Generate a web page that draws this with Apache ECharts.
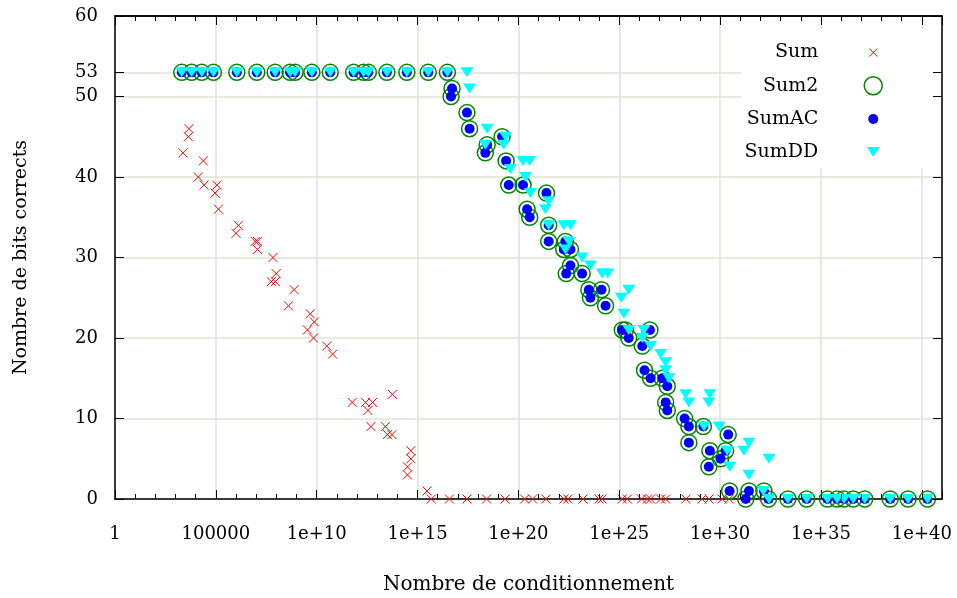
<!DOCTYPE html>
<html>
<head>
<meta charset="utf-8">
<title>Nombre de bits corrects</title>
<script src="https://cdn.jsdelivr.net/npm/echarts@6/dist/echarts.min.js"></script>
<style>
html,body{margin:0;padding:0;background:#fff;}
#chart{width:957px;height:598px;}
</style>
</head>
<body>
<div id="chart"></div>
<script>
// exposants : log10 du nombre de conditionnement
var sumExp = [3.37,3.64,3.67,4.13,4.38,4.42,4.96,5.05,5.13,6.0,6.12,6.95,7.06,7.06,7.75,7.83,7.95,7.99,8.6,8.88,
  9.54,9.68,9.84,9.88,10.5,10.79,11.76,12.42,12.54,12.69,12.77,13.4,13.51,13.73,13.75,14.5,14.5,14.67,14.67,15.47,15.68,
  16.58,17.45,18.42,19.34,20.31,20.7,21.36,22.25,22.45,23.2,24.0,24.15,25.15,25.4,26.1,26.4,26.55,27.05,27.3,
  28.3,29.1,29.45,30.1,30.45,31.3,32.4,33.36,34.29,35.32,36.14,37.17,38.43,39.32,40.28];
var sumBits = [43,45,46,40,42,39,38,39,36,33,34,32,32,31,27,30,27,28,24,26,
  21,23,20,22,19,18,12,12,11,9,12,9,8,8,13,4,3,6,5,1,0,
  0,0,0,0,0,0,0,0,0,0,0,0,0,0,0,0,0,0,0,
  0,0,0,0,0,0,0,0,0,0,0,0,0,0,0];

var accExp = [3.31,3.8,4.3,4.88,6.04,7.03,7.94,8.68,8.93,9.76,10.67,11.83,12.32,12.56,13.48,14.47,15.53,16.48,
  16.66,16.71,17.45,17.58,18.36,18.45,19.19,19.39,19.52,20.23,20.43,20.56,21.39,21.5,21.5,22.25,22.33,22.37,22.58,22.58,
  23.16,23.49,23.57,24.12,24.32,25.15,25.31,25.47,26.14,26.25,26.52,26.55,27.13,27.3,27.38,27.38,28.24,28.45,28.45,
  29.17,29.44,29.49,30.02,30.27,30.4,30.47,31.27,31.43,32.17,32.4,33.36,34.29,35.32,35.8,36.14,36.6,37.17,38.43,39.32,40.28];
var sum2Bits = [53,53,53,53,53,53,53,53,53,53,53,53,53,53,53,53,53,53,
  50,51,48,46,43,44,45,42,39,39,36,35,38,34,32,31,32,28,31,29,
  28,26,25,26,24,21,21,20,19,16,21,15,15,12,14,11,10,9,7,
  9,4,6,5,6,8,1,0,1,1,0,0,0,0,0,0,0,0,0,0,0];
var sumACBits = [53,53,53,53,53,53,53,53,53,53,53,53,53,53,53,53,53,53,
  50,51,48,46,43,44,45,42,39,39,36,35,38,34,32,31,32,28,31,29,
  28,26,25,26,24,21,21,20,19,16,21,15,15,12,14,11,10,9,7,
  9,4,6,5,6,8,1,0,1,1,0,0,0,0,0,0,0,0,0,0,0];

var ddExp = [3.31,3.8,4.3,4.88,6.04,7.03,7.94,8.68,8.93,9.76,10.67,11.83,12.32,12.56,13.48,14.47,15.53,16.48,17.45,
  17.58,18.36,18.45,19.27,19.36,19.6,20.23,20.35,20.55,20.6,21.34,21.5,21.5,22.25,22.33,22.5,22.58,
  23.16,23.57,24.15,24.43,25.1,25.23,25.47,25.47,26.14,26.22,26.55,27.05,27.3,27.3,27.46,
  28.29,28.45,29.2,29.44,29.49,29.96,30.35,30.48,31.18,31.43,31.43,32.14,32.42,32.42,
  33.36,34.29,35.32,35.8,36.14,36.6,37.17,38.43,39.32,40.28];
var sumDDBits = [53,53,53,53,53,53,53,53,53,53,53,53,53,53,53,53,53,53,53,
  51,44,46,44,45,41,42,40,42,38,36,37,34,34,31,32,34,
  30,29,28,28,25,23,26,21,20,21,19,18,17,16,15,
  13,12,9,12,13,9,6,4,6,7,3,1,5,0,
  0,0,0,0,0,0,0,0,0,0];

var yTicks = [0,10,20,30,40,50,53,60];

function pairs(xs, ys){
	return xs.map(function(x, i){ return [x, ys[i]]; });
}

(function(){

var chart = echarts.init(document.getElementById('chart'));
var font = 'DejaVu Serif';
var gridColor = '#dde4d4';

function xLabel(v){
	if (v % 5 !== 0) return '';
	if (v <= 5) return String(Math.pow(10, v));
	return '1e+' + v;
}

function xAxisDef(pos, interval, tickLen, main){
	return {
		type: 'value', position: pos, min: 0, max: 41, interval: interval,
		z: main ? 0 : 5,
		axisLine: {show: main || pos === 'top', onZero: false, lineStyle: {color: '#000', width: 1.5}},
		axisTick: {show: true, inside: true, length: tickLen, lineStyle: {color: '#000', width: 1}},
		axisLabel: {show: main, margin: 26, formatter: xLabel, fontFamily: font, fontSize: 18, color: '#000'},
		splitLine: {show: main, lineStyle: {color: gridColor, width: 1.5}},
		name: main ? 'Nombre de conditionnement' : '',
		nameLocation: 'middle', nameGap: 76,
		nameTextStyle: {fontFamily: font, fontSize: 20, color: '#000'}
	};
}

function yAxisDef(pos, main){
	return {
		type: 'value', position: pos, min: 0, max: 60,
		z: main ? 0 : 5,
		axisLine: {show: true, onZero: false, lineStyle: {color: '#000', width: 1.5}},
		axisTick: {show: true, inside: true, length: 9, customValues: yTicks, lineStyle: {color: '#000'}},
		axisLabel: {show: main, margin: 17, customValues: yTicks, fontFamily: font, fontSize: 18, color: '#000'},
		splitLine: {show: main, lineStyle: {color: gridColor, width: 1.5}},
		name: main ? 'Nombre de bits corrects' : '',
		nameLocation: 'middle', nameGap: 84,
		nameTextStyle: {fontFamily: font, fontSize: 19, color: '#000'}
	};
}

option = {
	animation: false,
	backgroundColor: '#fff',
	grid: {left: 115, right: 15, top: 16, bottom: 99, outerBoundsMode: 'none'},
	xAxis: [
		xAxisDef('bottom', 5, 9, true),
		xAxisDef('bottom', 1, 5, false),
		xAxisDef('top', 5, 9, false),
		xAxisDef('top', 1, 5, false)
	],
	yAxis: [
		yAxisDef('left', true),
		yAxisDef('right', false)
	],
	legend: {
		orient: 'vertical', align: 'right',
		right: 16, top: 17,
		padding: [26, 58, 7, 3],
		itemWidth: 100, itemHeight: 18, itemGap: 14,
		backgroundColor: '#fff',
		textStyle: {fontFamily: font, fontSize: 19, color: '#000'},
		data: [
			{name: 'Sum', icon: 'path://M0,0M18,18M5,5L13,13M13,5L5,13', itemStyle: {borderColor: '#ff0000', borderWidth: 1}},
			{name: 'Sum2', icon: 'circle', itemStyle: {color: 'rgba(0,0,0,0)', borderColor: '#008800', borderWidth: 1.5}},
			{name: 'SumAC', icon: 'path://M0,0M18,18M9,4A5,5,0,1,1,9,14A5,5,0,1,1,9,4Z', itemStyle: {borderWidth: 0}},
			{name: 'SumDD', icon: 'path://M0,0M18,18M2.5,4L15.5,4L9,14Z', itemStyle: {borderWidth: 0}}
		]
	},
	series: [
		{
			name: 'Sum', type: 'scatter',
			symbol: 'path://M0,0L10,10M10,0L0,10', symbolSize: 9,
			itemStyle: {color: '#ff0000', borderColor: '#ff0000', borderWidth: 1, opacity: 1},
			data: pairs(sumExp, sumBits)
		},
		{
			name: 'Sum2', type: 'scatter',
			symbol: 'circle', symbolSize: 16,
			itemStyle: {color: 'rgba(0,0,0,0)', borderColor: '#008800', borderWidth: 1.5, opacity: 1},
			data: pairs(accExp, sum2Bits)
		},
		{
			name: 'SumAC', type: 'scatter',
			symbol: 'circle', symbolSize: 10,
			itemStyle: {color: '#0000ff', opacity: 1},
			data: pairs(accExp, sumACBits)
		},
		{
			name: 'SumDD', type: 'scatter',
			symbol: 'path://M0,0L12,0L6,10Z', symbolSize: [13, 10],
			itemStyle: {color: '#00ffff', opacity: 1},
			data: pairs(ddExp, sumDDBits)
		}
	]
};

chart.setOption(option);
})();
</script>
</body>
</html>
